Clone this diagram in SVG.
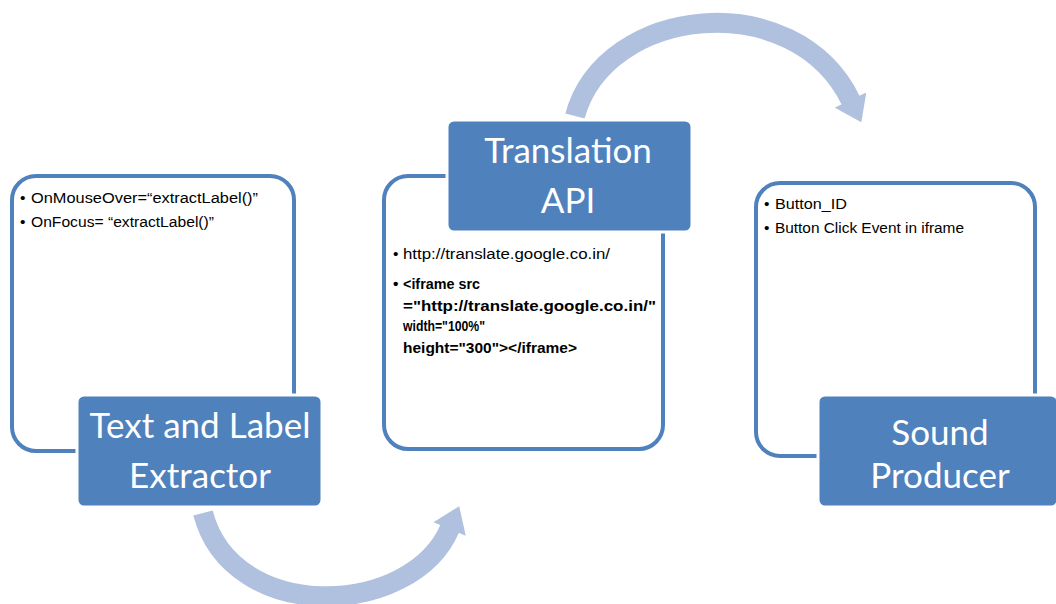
<svg xmlns="http://www.w3.org/2000/svg" width="1056" height="604" viewBox="0 0 1056 604">
<style>
.outline{fill:#ffffff;stroke:#4f81bd;stroke-width:4}
.label{fill:#4f81bd;stroke:#ffffff;stroke-width:3}
.title{font-family:Lato,"Liberation Sans",sans-serif;font-size:35px;fill:#ffffff;text-anchor:middle}
.item{font-family:"Liberation Sans",Arial,sans-serif;font-size:15.5px;fill:#000000}
.b{font-weight:bold}
.arc{fill:none;stroke:#afc1de;stroke-width:20;marker-end:url(#head)}
</style>
<defs>
<marker id="head" viewBox="0 0 12 17" refX="0.5" refY="8.5" markerWidth="1.3" markerHeight="1.75" orient="auto" markerUnits="strokeWidth">
<path d="M0,0 L12,8.5 L0,17 Z" fill="#afc1de"/>
</marker>
</defs>
<rect width="1056" height="604" fill="#ffffff"/>
<g id="connectors">
<path class="arc" d="M575,116 C605,5 795,-15 851,101"/>
<path class="arc" d="M203,513 C232,625 412,618 450,528"/>
</g>
<g id="extractor">
<rect class="outline" x="12" y="176" width="282" height="275" rx="24"/>
<text class="item" x="20" y="203">•</text>
<text class="item" x="31" y="203" textLength="227" lengthAdjust="spacingAndGlyphs">OnMouseOver=“extractLabel()”</text>
<text class="item" x="20" y="227">•</text>
<text class="item" x="31" y="227" textLength="183" lengthAdjust="spacingAndGlyphs">OnFocus= “extractLabel()”</text>
<rect class="label" x="77" y="395" width="245" height="112" rx="7"/>
<text class="title" x="200" y="438">Text and Label</text>
<text class="title" x="200" y="488">Extractor</text>
</g>
<g id="translation">
<rect class="outline" x="384" y="176" width="279" height="273" rx="24"/>
<text class="item" x="393" y="259">•</text>
<text class="item" x="403" y="259" textLength="207" lengthAdjust="spacingAndGlyphs">http://translate.google.co.in/</text>
<text class="item b" x="393" y="289">•</text>
<text class="item b" x="403" y="289" textLength="77" lengthAdjust="spacingAndGlyphs">&lt;iframe src</text>
<text class="item b" x="403" y="311" textLength="253" lengthAdjust="spacingAndGlyphs">="http://translate.google.co.in/"</text>
<text class="item b" x="403" y="331" textLength="82" lengthAdjust="spacingAndGlyphs">width="100%"</text>
<text class="item b" x="403" y="353" textLength="174" lengthAdjust="spacingAndGlyphs">height="300"&gt;&lt;/iframe&gt;</text>
<rect class="label" x="447" y="120" width="245" height="112" rx="7"/>
<text class="title" x="568" y="163">Translation</text>
<text class="title" x="568" y="213">API</text>
</g>
<g id="sound">
<rect class="outline" x="756" y="183" width="279" height="273" rx="24"/>
<text class="item" x="764" y="209">•</text>
<text class="item" x="775" y="209" textLength="72" lengthAdjust="spacingAndGlyphs">Button_ID</text>
<text class="item" x="764" y="233">•</text>
<text class="item" x="775" y="233" textLength="189" lengthAdjust="spacingAndGlyphs">Button Click Event in iframe</text>
<rect class="label" x="818" y="395" width="240" height="112" rx="7"/>
<text class="title" x="940" y="445">Sound</text>
<text class="title" x="940" y="488">Producer</text>
</g>
</svg>
